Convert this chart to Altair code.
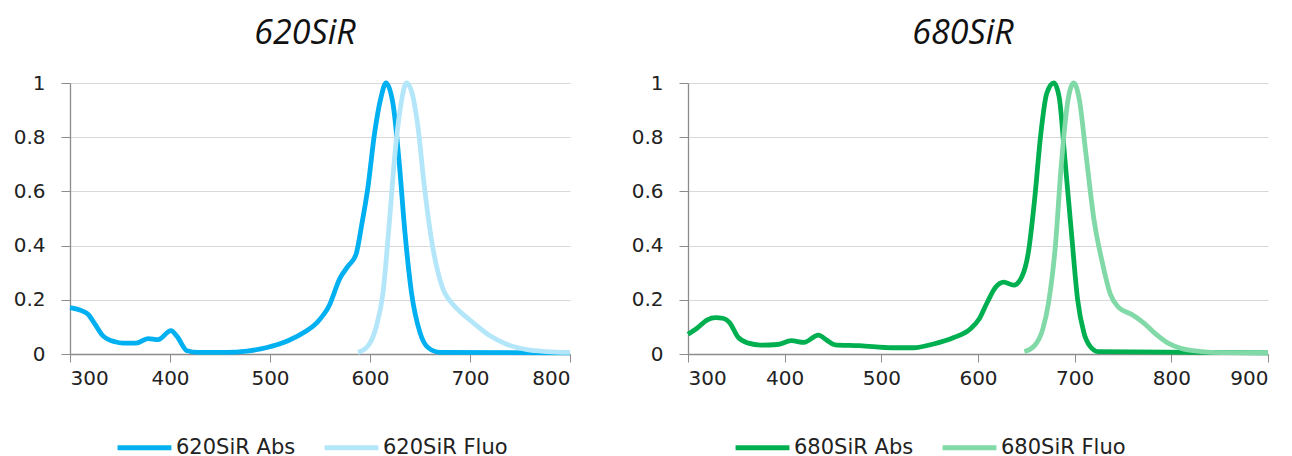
import altair as alt
import pandas as pd

# ---- 620SiR ----
abs620_wl = [300, 312, 318, 325, 333, 345, 353, 366, 378, 388, 401, 407, 417, 428, 456, 477, 497, 518, 535, 547, 559, 570, 578, 586, 592, 598, 604.5, 611, 616, 623, 629, 635, 641.5, 650, 658, 670, 800]
abs620_v = [0.171, 0.159, 0.147, 0.11, 0.067, 0.045, 0.04, 0.04, 0.057, 0.053, 0.086, 0.065, 0.012, 0.006, 0.006, 0.011, 0.024, 0.049, 0.082, 0.116, 0.177, 0.28, 0.324, 0.367, 0.483, 0.617, 0.813, 0.947, 1.0, 0.923, 0.715, 0.446, 0.226, 0.079, 0.024, 0.006, 0.004]
flu620_wl = [588, 598, 606.5, 613, 619, 625, 631, 636.5, 641.5, 648, 654, 662, 672, 683, 691, 703, 720, 736, 757, 777, 800]
flu620_v = [0.006, 0.03, 0.104, 0.226, 0.47, 0.74, 0.923, 1.0, 0.97, 0.837, 0.63, 0.41, 0.25, 0.183, 0.153, 0.116, 0.067, 0.037, 0.016, 0.009, 0.006]

# ---- 680SiR ----
abs680_wl = [300, 309, 320, 328.5, 337, 343, 352, 362.5, 375, 392, 407, 420, 435, 443.5, 452, 477.5, 511.6, 533, 554, 575, 592, 601, 609.5, 618, 626.5, 637, 645.6, 652, 658.5, 665, 671, 678.5, 684, 690, 697, 703, 709.5, 716, 724, 900]
abs680_v = [0.073, 0.094, 0.126, 0.134, 0.131, 0.116, 0.061, 0.04, 0.033, 0.035, 0.049, 0.043, 0.07, 0.051, 0.034, 0.031, 0.023, 0.023, 0.037, 0.061, 0.092, 0.128, 0.19, 0.245, 0.265, 0.254, 0.287, 0.373, 0.568, 0.813, 0.96, 1.0, 0.947, 0.715, 0.434, 0.202, 0.079, 0.028, 0.009, 0.004]
flu680_wl = [648, 658.5, 667, 673, 680, 686, 692.5, 699, 705, 711.6, 720, 728.7, 737, 745.7, 758.5, 771, 784, 797, 809.6, 831, 852, 900]
flu680_v = [0.009, 0.031, 0.092, 0.19, 0.397, 0.69, 0.923, 1.0, 0.935, 0.74, 0.495, 0.336, 0.22, 0.171, 0.147, 0.116, 0.073, 0.039, 0.021, 0.009, 0.005, 0.004]

FONT = "DejaVu Sans"


def frame(wl_a, v_a, wl_f, v_f, name):
    a = pd.DataFrame({"wl": wl_a, "v": v_a, "s": f"{name} Abs"})
    f = pd.DataFrame({"wl": wl_f, "v": v_f, "s": f"{name} Fluo"})
    return pd.concat([a, f], ignore_index=True)


def panel(df, name, xmax, colors, width):
    return alt.Chart(df, title=alt.TitleParams(name, fontStyle="italic", fontSize=34,
                                                  font="Open Sans", fontWeight="normal",
                                                  color="#111111", offset=22, dx=-15)).mark_line(
        strokeWidth=4.8, interpolate="monotone"
    ).encode(
        x=alt.X("wl:Q", scale=alt.Scale(domain=[300, xmax], nice=False),
                axis=alt.Axis(values=list(range(300, xmax + 1, 100)), title=None,
                              grid=False, tickSize=8, labelPadding=6)),
        y=alt.Y("v:Q", scale=alt.Scale(domain=[0, 1], nice=False),
                axis=alt.Axis(values=[0, 0.2, 0.4, 0.6, 0.8, 1], title=None,
                              tickSize=9, labelPadding=16, format="~g")),
        color=alt.Color("s:N", scale=alt.Scale(domain=[f"{name} Abs", f"{name} Fluo"], range=colors),
                        legend=alt.Legend(title=None, orient="none", direction="horizontal",
                                          legendX=45, legendY=335, symbolType="stroke",
                                          symbolStrokeWidth=5, symbolSize=2900,
                                          labelFontSize=21, labelFont=FONT, labelColor="#222222",
                                          labelOffset=2, columnPadding=18)),
        detail="s:N",
    ).properties(width=width, height=271)


left = panel(frame(abs620_wl, abs620_v, flu620_wl, flu620_v, "620SiR"), "620SiR", 800,
             ["#00B0F0", "#B4E6FA"], 500)
right = panel(frame(abs680_wl, abs680_v, flu680_wl, flu680_v, "680SiR"), "680SiR", 900,
              ["#00B050", "#80D9A6"], 580)

chart = alt.hconcat(left, right, spacing=51).resolve_scale(color="independent").properties(
    padding={"left": 13, "top": 17, "right": 10, "bottom": 5}, background="white"
).configure_view(stroke=None).configure_axis(
    labelFont=FONT, labelFontSize=20, labelColor="#222222",
    domainColor="#8c8c8c", tickColor="#8c8c8c", gridColor="#d9d9d9", domainWidth=1.3
)

chart.save("out.html", embed_options={"renderer": "svg", "actions": False})
